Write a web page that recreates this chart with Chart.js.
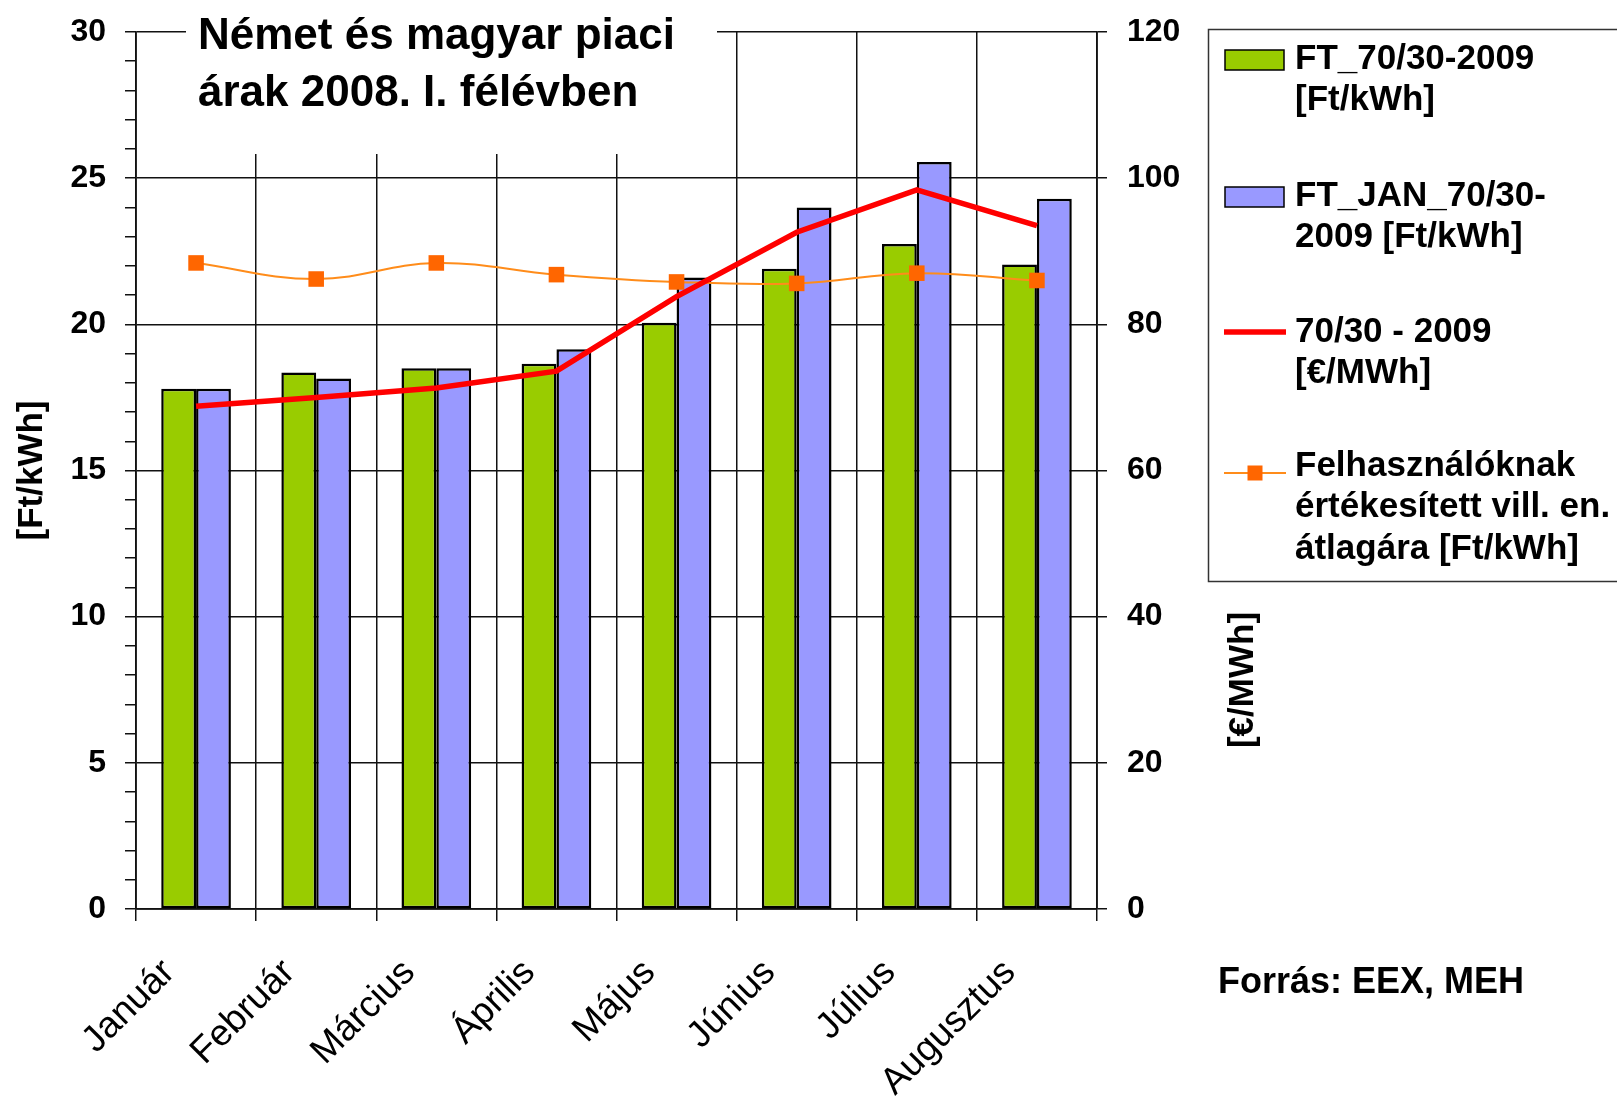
<!DOCTYPE html>
<html>
<head>
<meta charset="utf-8">
<title>Német és magyar piaci árak 2008</title>
<script src="https://cdn.jsdelivr.net/npm/chart.js@4.4.1/dist/chart.umd.min.js"></script>
<style>
  body { margin: 0; background: #fff; }
  #wrap { width: 1617px; height: 1097px; }
</style>
</head>
<body>
<div id="wrap"><canvas id="arak"></canvas></div>
<script>
// values
const months = ['Január', 'Február', 'Március', 'Április', 'Május', 'Június', 'Július', 'Augusztus'];
const ft7030 = [17.8, 18.35, 18.5, 18.65, 20.05, 21.9, 22.75, 22.05];        // Ft/kWh
const ftJan7030 = [17.8, 18.15, 18.5, 19.15, 21.6, 24.0, 25.55, 24.3];       // Ft/kWh
const eur7030 = [68.8, 70.0, 71.3, 73.6, 83.8, 92.6, 98.4, 93.5];            // €/MWh
const avgConsumerPrice = [22.1, 21.55, 22.1, 21.7, 21.45, 21.4, 21.75, 21.5]; // Ft/kWh

const titleLines = ['Német és magyar piaci', 'árak 2008. I. félévben'];
const legendLines = [
  ['FT_70/30-2009', '[Ft/kWh]'],
  ['FT_JAN_70/30-', '2009 [Ft/kWh]'],
  ['70/30 - 2009', '[€/MWh]'],
  ['Felhasználóknak', 'értékesített vill. en.', 'átlagára [Ft/kWh]']
];
const leftTitle = '[Ft/kWh]';
const rightTitle = '[€/MWh]';
const sourceNote = 'Forrás: EEX, MEH';

const FONT = "'Liberation Sans', Arial, sans-serif";
const INK = '#111';

Chart.defaults.font.family = FONT;
Chart.defaults.color = '#000';

// title box, legend, right axis title and source note
const overlay = {
  id: 'overlay',
  afterDraw(chart) {
    const ctx = chart.ctx;
    const ds = chart.data.datasets;
    ctx.save();

    ctx.fillStyle = '#fff';
    ctx.fillRect(186, 0, 531, 154);
    ctx.fillStyle = '#000';
    ctx.font = 'bold 44px ' + FONT;
    ctx.textAlign = 'left';
    ctx.textBaseline = 'alphabetic';
    ctx.fillText(titleLines[0], 198, 49);
    ctx.fillText(titleLines[1], 198, 106);

    // legend
    ctx.strokeStyle = '#333';
    ctx.lineWidth = 1.5;
    ctx.strokeRect(1208.5, 29.5, 430, 552);
    const rowY = [59, 196, 332, 466];
    ctx.font = 'bold 35px ' + FONT;
    ctx.textBaseline = 'middle';
    legendLines.forEach((lines, i) => {
      const d = ds[i];
      const y = rowY[i];
      if (d.type === 'bar') {
        ctx.fillStyle = d.backgroundColor;
        ctx.fillRect(1225, y - 9, 59, 20);
        ctx.strokeStyle = '#000';
        ctx.lineWidth = 1.5;
        ctx.strokeRect(1225, y - 9, 59, 20);
      } else {
        const my = i === 3 ? y + 7 : y;
        ctx.strokeStyle = d.borderColor;
        ctx.lineWidth = d.borderWidth;
        ctx.beginPath();
        ctx.moveTo(1224, my);
        ctx.lineTo(1286, my);
        ctx.stroke();
        if (d.pointRadius > 0) {
          ctx.fillStyle = d.pointBackgroundColor;
          ctx.fillRect(1247.5, my - 7.5, 15, 15);
        }
      }
      ctx.fillStyle = '#000';
      lines.forEach((t, k) => ctx.fillText(t, 1295, y + k * 41.5));
    });

    // right axis title, reads bottom to top
    ctx.save();
    ctx.translate(1243, 680);
    ctx.rotate(-Math.PI / 2);
    ctx.textAlign = 'center';
    ctx.fillText(rightTitle, 0, 0);
    ctx.restore();

    ctx.font = 'bold 36px ' + FONT;
    ctx.textBaseline = 'alphabetic';
    ctx.fillText(sourceNote, 1218, 993);
    ctx.restore();
  }
};

new Chart(document.getElementById('arak'), {
  data: {
    labels: months,
    datasets: [
      {
        type: 'bar',
        label: 'FT_70/30-2009 [Ft/kWh]',
        data: ft7030,
        yAxisID: 'y',
        backgroundColor: '#99cc00',
        borderColor: '#000',
        borderWidth: 2.5,
        borderSkipped: false,
        categoryPercentage: 0.58,
        barPercentage: 1.0,
        order: 2
      },
      {
        type: 'bar',
        label: 'FT_JAN_70/30-2009 [Ft/kWh]',
        data: ftJan7030,
        yAxisID: 'y',
        backgroundColor: '#9999ff',
        borderColor: '#000',
        borderWidth: 2.5,
        borderSkipped: false,
        categoryPercentage: 0.58,
        barPercentage: 1.0,
        order: 2
      },
      {
        type: 'line',
        label: '70/30 - 2009 [€/MWh]',
        data: eur7030,
        yAxisID: 'y1',
        borderColor: '#ff0000',
        borderWidth: 5.5,
        pointRadius: 0,
        tension: 0,
        order: 0
      },
      {
        type: 'line',
        label: 'Felhasználóknak értékesített vill. en. átlagára [Ft/kWh]',
        data: avgConsumerPrice,
        yAxisID: 'y',
        borderColor: '#ff8c1a',
        borderWidth: 2,
        pointStyle: 'rect',
        pointRadius: 11,
        pointBorderWidth: 0,
        pointBackgroundColor: '#ff6600',
        tension: 0.4,
        order: 1
      }
    ]
  },
  options: {
    responsive: true,
    maintainAspectRatio: false,
    animation: false,
    layout: { padding: { top: 32, right: 430, bottom: 0, left: 0 } },
    plugins: {
      legend: { display: false },
      tooltip: { enabled: false }
    },
    scales: {
      x: {
        grid: { color: INK, lineWidth: 1.5, tickLength: 12, tickColor: INK, offset: true },
        border: { color: INK, width: 1.8 },
        ticks: {
          autoSkip: false,
          minRotation: 45,
          maxRotation: 45,
          labelOffset: -27,
          padding: 30,
          font: { size: 37 }
        },
        afterFit: (s) => { s.height = 188; }
      },
      y: {
        position: 'left',
        min: 0,
        max: 30,
        grid: {
          color: (c) => (c.tick.value % 5 === 0 ? INK : 'rgba(0,0,0,0)'),
          lineWidth: 1.5,
          tickLength: 11,
          tickColor: INK
        },
        border: { color: INK, width: 1.8 },
        ticks: {
          stepSize: 1,
          autoSkip: false,
          padding: 19,
          font: { size: 32, weight: 'bold' },
          callback: (v) => (v % 5 === 0 ? v : '')
        },
        title: {
          display: true,
          text: leftTitle,
          font: { size: 35, weight: 'bold' },
          padding: { top: 11, bottom: 0 }
        },
        afterFit: (s) => { s.width = 136; s.paddingTop = 0; s.paddingBottom = 0; }
      },
      y1: {
        position: 'right',
        min: 0,
        max: 120,
        grid: { drawOnChartArea: false, tickLength: 10, tickColor: INK, lineWidth: 1.5 },
        border: { color: INK, width: 1.8 },
        ticks: {
          stepSize: 20,
          padding: 20,
          font: { size: 32, weight: 'bold' }
        },
        afterFit: (s) => { s.width = 90; s.paddingTop = 0; s.paddingBottom = 0; }
      }
    }
  },
  plugins: [overlay]
});
</script>
</body>
</html>
